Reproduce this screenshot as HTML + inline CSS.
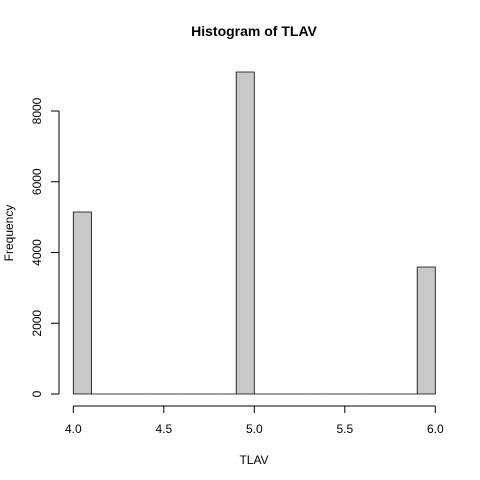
<!DOCTYPE html>
<html><head><meta charset="utf-8"><style>body{margin:0;background:#fff}svg{display:block;font-family:"Liberation Sans",Arial,sans-serif}</style></head>
<body>
<svg id="c" width="480" height="480">
<text x="254" y="36" font-size="14" font-weight="bold" text-anchor="middle">Histogram of TLAV</text>
<text x="254" y="464" font-size="12" text-anchor="middle">TLAV</text>
<text transform="translate(13,233) rotate(-90)" font-size="12" text-anchor="middle">Frequency</text>
<g id="bars"></g><g id="xa"></g><g id="ya"></g>
</svg>
<script>
const binStarts=[4.0,4.1,4.2,4.3,4.4,4.5,4.6,4.7,4.8,4.9,5.0,5.1,5.2,5.3,5.4,5.5,5.6,5.7,5.8,5.9];
const counts=[5145,0,0,0,0,0,0,0,0,9102,0,0,0,0,0,0,0,0,0,3590];
const xTicks=[4.0,4.5,5.0,5.5,6.0];
const xTickLabels=["4.0","4.5","5.0","5.5","6.0"];
const yTicks=[0,2000,4000,6000,8000];
const yTickLabels=["0","2000","4000","6000","8000"];
const binWidth=0.1;
const NS="http://www.w3.org/2000/svg";
const sx=v=>73.3+(v-4)*181;
const sy=v=>394-v*0.035375;
function mk(t,a,p){const e=document.createElementNS(NS,t);for(const k in a)e.setAttribute(k,a[k]);p.appendChild(e);return e;}
const bars=document.getElementById('bars');
binStarts.forEach((b,i)=>{
 const x0=sx(b),x1=sx(b+binWidth),y0=sy(0),y1=sy(counts[i]);
 const r=mk('path',{d:`M${x0},${y0}L${x0},${y1}L${x1},${y1}L${x1},${y0}Z`,fill:'#c8c8c8',stroke:'#000','stroke-width':0.8},bars);
 
 
});
const xa=document.getElementById('xa');


mk('line',{x1:sx(xTicks[0]),x2:sx(xTicks[xTicks.length-1]),y1:406,y2:406,stroke:'#000'},xa);
xTicks.forEach((t,i)=>{
 mk('line',{x1:sx(t),x2:sx(t),y1:406,y2:413,stroke:'#000'},xa);
 const tx=mk('text',{x:sx(t),y:433,'font-size':12,'text-anchor':'middle'},xa);
 tx.textContent=xTickLabels[i];
 
 
});
const ya=document.getElementById('ya');


mk('line',{x1:59,x2:59,y1:sy(yTicks[0]),y2:sy(yTicks[yTicks.length-1]),stroke:'#000'},ya);
yTicks.forEach((t,i)=>{
 mk('line',{x1:51,x2:59,y1:sy(t),y2:sy(t),stroke:'#000'},ya);
 const tx=mk('text',{transform:`translate(41,${sy(t)}) rotate(-90)`,'font-size':12,'text-anchor':'middle'},ya);
 tx.textContent=yTickLabels[i];
 
 
});
</script>
</body></html>
